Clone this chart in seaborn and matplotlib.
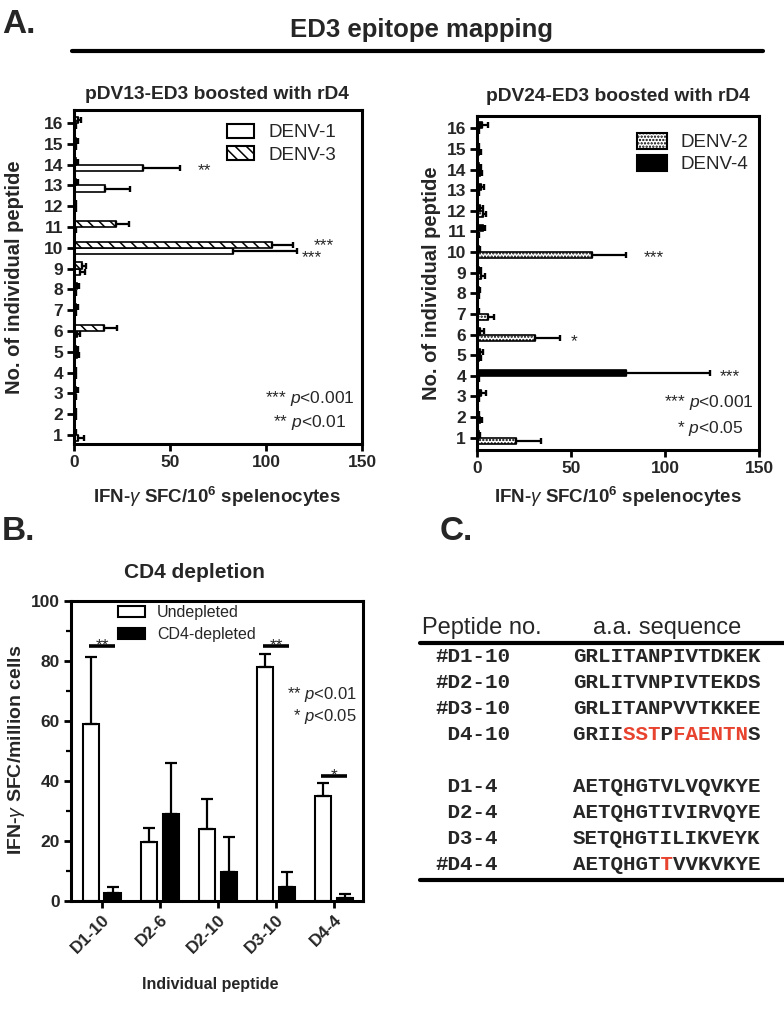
import numpy as np
import pandas as pd
import matplotlib
matplotlib.use("Agg")
import matplotlib.pyplot as plt
import seaborn as sns
from matplotlib.patches import Patch
from matplotlib.lines import Line2D

# ---------------- data ----------------
peptides = list(range(1, 17))
ytick_labels = [str(p) for p in peptides]

denv1 = [2, 0.5, 0.5, 0.5, 1.5, 1.5, 0.5, 0.5, 3, 83, 0.5, 0.5, 16, 36, 0.5, 0.5]
denv1_err = [3, 0.8, 0.8, 0.8, 1, 1.5, 0.8, 0.8, 2.5, 33, 0.8, 0.8, 13, 19, 0.8, 0.8]
denv3 = [0.5, 0.5, 1, 0.5, 1, 15.6, 1, 1.5, 4, 103, 22, 0.5, 1, 1, 1, 2]
denv3_err = [0.8, 0.8, 1, 0.8, 1, 7, 1, 1, 2.5, 11, 6.5, 0.8, 1, 1, 1, 1.5]

denv2 = [21, 1.5, 0.5, 0.5, 1, 31, 6, 0.5, 2, 61, 0.5, 3, 0.5, 1.5, 1, 0.5]
denv2_err = [13, 1, 0.8, 0.8, 1, 13, 3, 0.8, 2, 18, 0.8, 2, 0.8, 1, 1, 0.8]
denv4 = [1, 0.5, 2, 79, 1.5, 1.5, 0.5, 1, 1, 1, 3, 1.5, 2, 1, 0.5, 2.7]
denv4_err = [0.8, 0.8, 3, 45, 1.5, 2, 0.8, 0.8, 1, 0.8, 1, 1.5, 1.5, 1, 0.8, 3.3]

xticks_a = [0, 50, 100, 150]

peptides_b = ["D1-10", "D2-6", "D2-10", "D3-10", "D4-4"]
undepleted = [59, 19.7, 24, 78, 35]
undepleted_err = [22.5, 4.8, 10, 4.3, 4.2]
depleted = [2.7, 29, 9.7, 4.7, 1.1]
depleted_err = [2, 17, 11.7, 5, 1.3]
sig_peptides = ["D1-10", "D3-10", "D4-4"]
sig_levels = [85, 85, 41.7]
sig_labels = ["**", "**", "*"]
yticks_b = [0, 20, 40, 60, 80, 100]

table_ids = ["#D1-10", "#D2-10", "#D3-10", " D4-10", " D1-4", " D2-4", " D3-4", "#D4-4"]
table_seqs = ["GRLITANPIVTDKEK", "GRLITVNPIVTEKDS", "GRLITANPVVTKKEE", "GRIISSTPFAENTNS",
              "AETQHGTVLVQVKYE", "AETQHGTIVIRVQYE", "SETQHGTILIKVEYK", "AETQHGTTVVKVKYE"]
table_red = [[], [], [], [4, 5, 6, 8, 9, 10, 11, 12, 13], [], [], [], [7]]

# ---------------- style ----------------
sns.set_theme(style="white")
plt.rcParams["font.family"] = ["Liberation Sans", "DejaVu Sans"]
plt.rcParams["mathtext.fontset"] = "custom"
plt.rcParams["mathtext.rm"] = "Liberation Sans"
plt.rcParams["mathtext.it"] = "Liberation Sans:italic"
plt.rcParams["mathtext.bf"] = "Liberation Sans:bold"
plt.rcParams["hatch.linewidth"] = 1.1
plt.rcParams["hatch.color"] = "black"

W, H = 784, 1017
fig = plt.figure(figsize=(W / 100, H / 100), dpi=100)
canvas = fig.add_axes([0, 0, 1, 1])
canvas.set_xlim(0, W)
canvas.set_ylim(H, 0)
canvas.axis("off")
canvas.set_zorder(10)
canvas.patch.set_alpha(0)


def ax_px(x0, y0, x1, y1):
    return fig.add_axes([x0 / W, 1 - y1 / H, (x1 - x0) / W, (y1 - y0) / H])


def style_axes(ax, lw=2.2, labelsize=12.5):
    for s in ax.spines.values():
        s.set_visible(True)
        s.set_color("black")
        s.set_linewidth(lw)
    ax.tick_params(axis="both", which="both", direction="out", color="black",
                   width=2, length=5, labelsize=labelsize, pad=3, left=True, bottom=True)
    for lab in ax.get_xticklabels() + ax.get_yticklabels():
        lab.set_fontweight("bold")


HATCH3 = "\\\\\\"
HATCH2 = "....."


def hbar_panel(ax, names, vals, errs, colors, hatches, ylim):
    df = pd.DataFrame({
        "peptide": peptides * 2,
        "value": vals[0] + vals[1],
        "serotype": [names[0]] * 16 + [names[1]] * 16,
    })
    sns.barplot(data=df, x="value", y="peptide", hue="serotype", hue_order=names,
                orient="y", native_scale=True, width=0.6,
                palette=dict(zip(names, colors)), edgecolor="black", linewidth=1.2,
                errorbar=None, legend=False, ax=ax)
    for cont, err, h in zip(ax.containers, errs, hatches):
        xs, ys, es = [], [], []
        for p in cont.patches:
            if h:
                p.set_hatch(h)
            yc = p.get_y() + p.get_height() / 2
            xs.append(p.get_width())
            ys.append(yc)
            es.append(err[int(round(yc)) - 1])
        ax.errorbar(xs, ys, xerr=[np.zeros(len(es)), es], fmt="none", ecolor="black",
                    elinewidth=1.6, capsize=2.4, capthick=1.7, zorder=1)
    ax.set_xlim(0, 150)
    ax.set_ylim(*ylim)
    ax.set_xticks(xticks_a)
    ax.set_xticklabels([str(t) for t in xticks_a])
    ax.set_yticks(peptides)
    ax.set_yticklabels(ytick_labels)
    ax.set_xlabel("")
    ax.set_ylabel("")
    style_axes(ax)


# ---------------- panel A ----------------
axL = ax_px(74, 110, 362, 444)
hbar_panel(axL, ["DENV-1", "DENV-3"], [denv1, denv3], [denv1_err, denv3_err],
           ["white", "white"], [None, HATCH3], (0.57, 16.63))
axR = ax_px(477, 116, 759, 450)
hbar_panel(axR, ["DENV-2", "DENV-4"], [denv2, denv4], [denv2_err, denv4_err],
           ["white", "black"], [HATCH2, None], (0.4, 16.6))

legL = axL.legend(handles=[Patch(facecolor="white", edgecolor="black", lw=1.5, label="DENV-1"),
                           Patch(facecolor="white", edgecolor="black", lw=1.5, hatch=HATCH3, label="DENV-3")],
                  loc="upper left", bbox_to_anchor=(227 / W, 1 - 124 / H), bbox_transform=fig.transFigure,
                  frameon=False, fontsize=13.5, borderpad=0, borderaxespad=0,
                  handlelength=1.45, handleheight=0.75, handletextpad=0.75, labelspacing=0.25)
legR = axR.legend(handles=[Patch(facecolor="white", edgecolor="black", lw=1.5, hatch=HATCH2, label="DENV-2"),
                           Patch(facecolor="black", edgecolor="black", lw=1.5, label="DENV-4")],
                  loc="upper left", bbox_to_anchor=(637 / W, 1 - 133 / H), bbox_transform=fig.transFigure,
                  frameon=False, fontsize=13.5, borderpad=0, borderaxespad=0,
                  handlelength=1.6, handleheight=0.9, handletextpad=0.7, labelspacing=0.2)

# significance stars (pixel positions of annotations)
for s, x, y in [("**", 204, 171), ("***", 324, 246), ("***", 312, 258),
                ("***", 654, 258), ("*", 574, 342), ("***", 730, 377)]:
    canvas.text(x, y, s, ha="center", va="center", fontsize=12.5)
for s, x, y in [("*** $p$<0.001", 310, 398), ("** $p$<0.01", 310, 423),
                ("*** $p$<0.001", 709, 402), ("* $p$<0.05", 710, 428)]:
    canvas.text(x, y, s, ha="center", va="center", fontsize=12.5)

canvas.text(2, 33, "A.", fontsize=24, fontweight="bold", va="baseline")
canvas.text(422, 37, "ED3 epitope mapping", fontsize=18.5, fontweight="bold", ha="center", va="baseline")
canvas.add_line(Line2D([72, 763], [51, 51], color="black", lw=3))
canvas.text(217, 99, "pDV13-ED3 boosted with rD4", fontsize=13.8, fontweight="bold", ha="center", va="baseline")
canvas.text(618, 101, "pDV24-ED3 boosted with rD4", fontsize=13.8, fontweight="bold", ha="center", va="baseline")
xlab = "IFN-$\\gamma$ SFC/10$^{\\mathbf{6}}$ spelenocytes"
canvas.text(217, 497, xlab, fontsize=13.5, fontweight="bold", ha="center", va="center")
canvas.text(618, 497, xlab, fontsize=13.5, fontweight="bold", ha="center", va="center")
canvas.text(15, 277, "No. of individual peptide", fontsize=14.5, fontweight="bold",
            ha="center", va="center", rotation=90)
canvas.text(432, 283, "No. of individual peptide", fontsize=14.5, fontweight="bold",
            ha="center", va="center", rotation=90)

# ---------------- panel B ----------------
axB = ax_px(71, 601, 363, 901)
dfb = pd.DataFrame({
    "peptide": peptides_b * 2,
    "value": undepleted + depleted,
    "condition": ["Undepleted"] * 5 + ["CD4-depleted"] * 5,
})
sns.barplot(data=dfb, x="peptide", y="value", hue="condition", order=peptides_b,
            hue_order=["Undepleted", "CD4-depleted"],
            palette={"Undepleted": "white", "CD4-depleted": "black"},
            width=0.74, gap=0.25, edgecolor="black", linewidth=1.5,
            errorbar=None, legend=False, ax=axB)
centers = {}
for cont, err, key in zip(axB.containers, [undepleted_err, depleted_err], ["u", "d"]):
    xs, ys = [], []
    for p in cont.patches:
        xs.append(p.get_x() + p.get_width() / 2)
        ys.append(p.get_height())
    centers[key] = xs
    axB.errorbar(xs, ys, yerr=[np.zeros(len(err)), err], fmt="none", ecolor="black",
                 elinewidth=1.6, capsize=4, capthick=1.6, zorder=1)
for pep, lev, lab in zip(sig_peptides, sig_levels, sig_labels):
    i = peptides_b.index(pep)
    x1 = centers["u"][i] - 0.03
    x2 = centers["d"][i] + 0.04
    axB.plot([x1, x2], [lev, lev], color="black", lw=2.6, solid_capstyle="butt")
    axB.text((x1 + x2) / 2, lev + 0.2, lab, ha="center", va="center", fontsize=12.5)
axB.set_ylim(0, 100)
axB.set_xlim(-0.53, 4.5)
axB.set_yticks(yticks_b)
axB.set_yticks([10, 30, 50, 70, 90], minor=True)
axB.set_xlabel("")
axB.set_ylabel("")
axB.set_xticks(range(len(peptides_b)))
axB.set_xticklabels(peptides_b, rotation=45, ha="right", rotation_mode="anchor")
style_axes(axB, labelsize=12.5)
axB.tick_params(axis="y", which="minor", length=3.5, width=1.6)
axB.legend(handles=[Patch(facecolor="white", edgecolor="black", lw=1.5, label="Undepleted"),
                    Patch(facecolor="black", edgecolor="black", lw=1.5, label="CD4-depleted")],
           loc="upper left", bbox_to_anchor=(118 / W, 1 - 605 / H), bbox_transform=fig.transFigure,
           frameon=False, fontsize=11.5, borderpad=0, borderaxespad=0,
           handlelength=1.7, handleheight=0.75, handletextpad=0.75, labelspacing=0.45)
canvas.text(357, 694, "** $p$<0.01", ha="right", va="center", fontsize=12)
canvas.text(357, 717, "* $p$<0.05", ha="right", va="center", fontsize=12)

canvas.text(2, 540, "B.", fontsize=24, fontweight="bold", va="baseline")
canvas.text(194, 573, "CD4 depletion", fontsize=15, fontweight="bold", ha="center", va="center")
canvas.text(17, 750, "IFN-$\\gamma$ SFC/million cells", fontsize=14, fontweight="bold",
            ha="center", va="center", rotation=90)
canvas.text(210, 985, "Individual peptide", fontsize=11.5, fontweight="bold", ha="center", va="center")

# ---------------- panel C ----------------
canvas.text(440, 540, "C.", fontsize=24, fontweight="bold", va="baseline")
canvas.text(422, 634, "Peptide no.", fontsize=17, va="baseline")
canvas.text(593, 634, "a.a. sequence", fontsize=17, va="baseline")
canvas.add_line(Line2D([420, 784], [643, 643], color="black", lw=3))
red = "#e8432e"
for i, (pid, seq, reds) in enumerate(zip(table_ids, table_seqs, table_red)):
    y = 657 + 26 * (i + (1 if i >= 4 else 0))
    canvas.text(435, y, pid, family="Liberation Mono", fontweight="bold", fontsize=15, va="center")
    blk = "".join(" " if j in reds else c for j, c in enumerate(seq))
    canvas.text(573, y, blk, family="Liberation Mono", fontweight="bold", fontsize=15, va="center")
    if reds:
        rs = "".join(c if j in reds else " " for j, c in enumerate(seq))
        canvas.text(573, y, rs, family="Liberation Mono", fontweight="bold", fontsize=15,
                    va="center", color=red)
canvas.add_line(Line2D([420, 784], [880, 880], color="black", lw=3))

fig.savefig("out.png", dpi=100)
